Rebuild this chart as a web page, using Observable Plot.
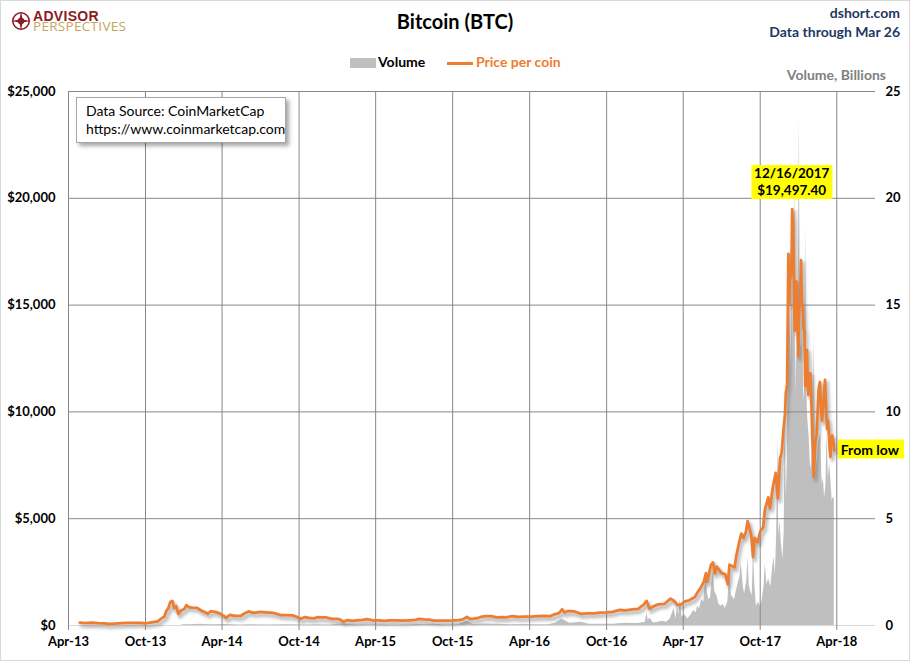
<!DOCTYPE html>
<html>
<head>
<meta charset="utf-8">
<script src="https://cdn.jsdelivr.net/npm/d3@7"></script>
<script src="https://cdn.jsdelivr.net/npm/@observablehq/plot@0.6"></script>
<style>
  body { margin: 0; background: #fff; }
  #wrap { position: relative; width: 910px; height: 661px; font-family: Lato, "Open Sans", sans-serif; overflow: hidden; }
  #wrap > svg { position: absolute; left: 0; top: 0; }
  .abs { position: absolute; white-space: nowrap; }
  .border { position: absolute; left: 0; top: 0; width: 908px; height: 659px; border: 1px solid #d9d9d9; pointer-events: none; }
</style>
</head>
<body>
<div id="wrap"></div>
<script>
// ---------- DATA ----------
const xTickLabels = ["Apr-13","Oct-13","Apr-14","Oct-14","Apr-15","Oct-15","Apr-16","Oct-16","Apr-17","Oct-17","Apr-18"];
const yTicks = [0, 5000, 10000, 15000, 20000, 25000];
const volumeTicks = [0, 5, 10, 15, 20, 25];

const priceDates = [
"2013-04-28","2013-05-10","2013-05-25","2013-06-10","2013-06-25","2013-07-05","2013-07-20","2013-08-05","2013-08-20","2013-09-05",
"2013-09-20","2013-10-02","2013-10-15","2013-10-30","2013-11-08","2013-11-15","2013-11-19","2013-11-24","2013-11-29","2013-12-04",
"2013-12-08","2013-12-13","2013-12-18","2013-12-23","2014-01-01","2014-01-06","2014-01-12","2014-01-20","2014-02-01","2014-02-10",
"2014-02-20","2014-02-26","2014-03-05","2014-03-15","2014-03-25","2014-04-05","2014-04-10","2014-04-20","2014-05-01","2014-05-15",
"2014-05-25","2014-06-03","2014-06-15","2014-07-01","2014-07-15","2014-08-01","2014-08-18","2014-09-01","2014-09-15","2014-09-25",
"2014-10-05","2014-10-15","2014-10-25","2014-11-05","2014-11-15","2014-11-25","2014-12-05","2014-12-18","2014-12-30","2015-01-06",
"2015-01-14","2015-01-25","2015-02-05","2015-02-15","2015-03-01","2015-03-12","2015-03-25","2015-04-10","2015-04-20","2015-05-05",
"2015-05-20","2015-06-05","2015-06-20","2015-07-05","2015-07-12","2015-07-25","2015-08-05","2015-08-18","2015-09-01","2015-09-15",
"2015-10-01","2015-10-15","2015-10-25","2015-11-04","2015-11-11","2015-11-20","2015-12-01","2015-12-10","2015-12-20","2016-01-01",
"2016-01-15","2016-01-25","2016-02-05","2016-02-20","2016-03-05","2016-03-20","2016-04-05","2016-04-20","2016-05-05","2016-05-20",
"2016-06-01","2016-06-10","2016-06-17","2016-06-23","2016-07-01","2016-07-15","2016-08-02","2016-08-15","2016-09-01","2016-09-15",
"2016-10-01","2016-10-15","2016-11-01","2016-11-15","2016-12-01","2016-12-15","2016-12-28","2017-01-04","2017-01-11","2017-01-20",
"2017-02-01","2017-02-15","2017-03-02","2017-03-10","2017-03-18","2017-03-25","2017-04-05","2017-04-15","2017-04-28","2017-05-05",
"2017-05-12","2017-05-20","2017-05-25","2017-05-28","2017-06-06","2017-06-11","2017-06-15","2017-06-20","2017-07-01","2017-07-10",
"2017-07-16","2017-07-20","2017-08-01","2017-08-05","2017-08-12","2017-08-17","2017-08-22","2017-08-28","2017-09-01","2017-09-05",
"2017-09-10","2017-09-14","2017-09-18","2017-09-25","2017-10-01","2017-10-08","2017-10-12","2017-10-20","2017-10-24","2017-10-31",
"2017-11-07","2017-11-12","2017-11-17","2017-11-21","2017-11-26","2017-11-29","2017-12-01","2017-12-04","2017-12-07","2017-12-09",
"2017-12-11","2017-12-13","2017-12-15","2017-12-16","2017-12-18","2017-12-20","2017-12-22","2017-12-24","2017-12-26","2017-12-28",
"2017-12-30","2018-01-02","2018-01-04","2018-01-06","2018-01-08","2018-01-10","2018-01-12","2018-01-14","2018-01-16","2018-01-18",
"2018-01-20","2018-01-23","2018-01-26","2018-01-28","2018-01-31","2018-02-02","2018-02-04","2018-02-05","2018-02-07","2018-02-09",
"2018-02-12","2018-02-15","2018-02-17","2018-02-20","2018-02-23","2018-02-25","2018-02-28","2018-03-04","2018-03-07","2018-03-09",
"2018-03-11","2018-03-13","2018-03-15","2018-03-17","2018-03-19","2018-03-21","2018-03-23","2018-03-25","2018-03-26"
];
const priceValues = [
135,117,130,108,103,80,90,106,120,124,
126,105,150,196,335,420,660,800,1100,1150,
820,900,540,680,770,950,860,840,830,700,
620,550,670,640,580,450,360,500,450,445,
575,660,590,640,620,590,490,480,475,410,
320,395,355,335,390,375,375,310,315,285,
180,255,220,235,260,295,245,235,220,240,
235,225,245,260,310,290,280,230,228,230,
237,255,285,400,310,325,360,415,440,435,
375,395,385,440,400,410,420,440,450,440,
535,580,760,610,680,665,545,570,572,607,
615,640,730,710,755,780,975,1150,780,895,
990,1010,1260,1150,970,960,1130,1180,1320,1550,
1750,2050,2450,2050,2850,2950,2430,2750,2450,2400,
1930,2850,2720,3250,3900,4300,4100,4380,4890,4600,
4200,3200,4100,3900,4400,4600,5400,6000,5500,6470,
7150,5950,7800,8100,9300,9900,10900,11300,17400,15000,
16700,16300,17700,19497.4,18900,16600,13800,13900,16100,14600,
12600,14900,15100,17100,15200,14900,13900,13800,11200,11500,
12900,10800,11100,11800,10200,8800,8200,6950,7700,8600,
8900,10200,11100,11400,10000,9600,10400,11500,9900,9200,
9600,9100,8300,7900,8600,8900,8700,8450,8200
];

const volumeDates = [
"2013-04-28","2013-12-26","2013-12-27","2014-01-15","2014-02-10","2014-03-01","2014-04-10","2014-05-15","2014-06-05","2014-07-15",
"2014-08-18","2014-09-20","2014-10-15","2014-11-12","2014-12-15","2015-01-14","2015-02-15","2015-03-15","2015-04-15","2015-05-15",
"2015-06-15","2015-07-10","2015-08-18","2015-09-15","2015-10-15","2015-11-04","2015-11-20","2015-12-15","2016-01-15","2016-02-15",
"2016-03-15","2016-04-15","2016-05-15","2016-06-01","2016-06-17","2016-07-05","2016-08-02","2016-08-20","2016-09-15","2016-10-15",
"2016-11-15","2016-12-15","2017-01-01","2017-01-05","2017-01-08","2017-01-12","2017-01-20","2017-02-01","2017-02-10","2017-02-20",
"2017-03-01","2017-03-05","2017-03-10","2017-03-15","2017-03-18","2017-03-22","2017-03-25","2017-03-29","2017-04-05","2017-04-12",
"2017-04-20","2017-04-26","2017-05-02","2017-05-05","2017-05-10","2017-05-15","2017-05-20","2017-05-25","2017-05-28","2017-06-01",
"2017-06-05","2017-06-08","2017-06-12","2017-06-15","2017-06-20","2017-06-25","2017-07-01","2017-07-05","2017-07-10","2017-07-16",
"2017-07-20","2017-07-25","2017-08-01","2017-08-05","2017-08-10","2017-08-14","2017-08-17","2017-08-22","2017-08-25","2017-08-30",
"2017-09-02","2017-09-05","2017-09-08","2017-09-12","2017-09-15","2017-09-18","2017-09-22","2017-09-27","2017-10-01","2017-10-05",
"2017-10-10","2017-10-13","2017-10-17","2017-10-21","2017-10-26","2017-10-31","2017-11-03","2017-11-06","2017-11-09","2017-11-12",
"2017-11-14","2017-11-17","2017-11-20","2017-11-24","2017-11-27","2017-11-29","2017-12-02","2017-12-05","2017-12-07","2017-12-09",
"2017-12-11","2017-12-13","2017-12-15","2017-12-16","2017-12-17","2017-12-19","2017-12-21","2017-12-22","2017-12-24","2017-12-26",
"2017-12-28","2017-12-30","2018-01-02","2018-01-04","2018-01-06","2018-01-08","2018-01-10","2018-01-12","2018-01-14","2018-01-16",
"2018-01-17","2018-01-19","2018-01-22","2018-01-25","2018-01-28","2018-01-31","2018-02-02","2018-02-05","2018-02-06","2018-02-08",
"2018-02-10","2018-02-14","2018-02-17","2018-02-20","2018-02-22","2018-02-25","2018-02-28","2018-03-03","2018-03-06","2018-03-09",
"2018-03-12","2018-03-15","2018-03-18","2018-03-21","2018-03-23","2018-03-26"
];
const volumeValues = [
0,0,0.03,0.04,0.06,0.03,0.05,0.02,0.04,0.02,
0.03,0.04,0.02,0.04,0.02,0.08,0.02,0.03,0.02,0.01,
0.02,0.05,0.06,0.02,0.03,0.2,0.05,0.07,0.06,0.04,
0.05,0.04,0.04,0.1,0.3,0.1,0.15,0.06,0.06,0.06,
0.1,0.09,0.15,0.6,0.25,0.35,0.12,0.15,0.2,0.15,
0.3,0.5,0.8,0.3,0.9,0.5,1.2,0.4,0.5,0.3,
0.5,0.7,0.6,0.9,0.8,1.2,1.1,2.4,1.6,1.2,
1.3,2.0,2.5,1.6,1.4,1.0,0.9,1.0,0.8,1.1,
2.3,1.4,1.2,1.6,2.0,2.3,2.9,1.8,1.5,2.1,
3.2,1.9,1.6,1.4,3.5,2.0,0.9,1.1,0.9,1.1,
1.8,2.9,1.9,2.2,1.8,2.8,3.2,2.4,4.2,8.9,
4.2,4.9,3.9,3.1,4.4,9.5,6.0,8.1,16.8,13.6,
14.6,12.1,14.0,18.0,12.7,16.9,16.0,22.2,10.7,13.0,
12.3,14.1,23.8,15.0,13.0,13.2,15.0,11.1,10.5,16.0,
18.8,11.3,9.7,8.9,7.6,7.3,12.7,9.3,13.9,9.9,
7.1,7.9,8.6,8.8,9.0,6.6,6.9,6.0,6.5,9.0,
6.9,7.6,6.8,5.8,6.0,5.9
];

const peakDate = "2017-12-16";
const peakValue = 19497.40;
const peakLabel = ["12/16/2017", "$19,497.40"];

// ---------- BUILD ----------
const parseTick = d3.utcParse("%b-%y");
const xTickDates = xTickLabels.map(parseTick);
const labelByTime = new Map(xTickDates.map((d, i) => [+d, xTickLabels[i]]));
const price = priceDates.map((d, i) => ({date: new Date(d), value: priceValues[i]}));
const volume = volumeDates.map((d, i) => ({date: new Date(d), value: volumeValues[i]}));
const VOL_TO_PRICE = yTicks[yTicks.length - 1] / volumeTicks[volumeTicks.length - 1]; // 1 billion <-> $1,000

const chart = Plot.plot({
  width: 910,
  height: 661,
  marginLeft: 68,
  marginRight: 35,
  marginTop: 91,
  marginBottom: 36,
  style: {fontFamily: "Lato, 'Open Sans', sans-serif", fontSize: "13px", fontWeight: "bold", color: "#000", background: "transparent", overflow: "visible"},
  x: {type: "utc", domain: [new Date("2013-04-01"), new Date("2018-07-02")]},
  y: {domain: [0, 25000]},
  marks: [
    Plot.areaY(volume, {x: "date", y: d => d.value * VOL_TO_PRICE, fill: "#bfbfbf", curve: "linear"}),
    Plot.ruleY(yTicks.filter(d => d > 0), {stroke: "#878787", strokeWidth: 1}),
    Plot.ruleX(xTickDates, {y1: 0, y2: 25000, stroke: "#878787", strokeWidth: 1}),
    Plot.ruleY([0], {stroke: "#d9d9d9", strokeWidth: 1}),
    Plot.line(price, {x: "date", y: "value", stroke: "#6f6f6f", strokeWidth: 4, strokeOpacity: 0.45, dx: 2, dy: 3}),
    Plot.line(price, {x: "date", y: "value", stroke: "#ed7d31", strokeWidth: 2.75}),
    Plot.axisX({ticks: xTickDates, tickFormat: d => labelByTime.get(+d), tickSize: 5, tickPadding: 6, stroke: "#878787", fill: "#000", label: null}),
    Plot.axisY({anchor: "left", ticks: yTicks, tickFormat: d => "$" + d3.format(",")(d), tickSize: 0, tickPadding: 13, fill: "#000", label: null}),
    Plot.axisY({anchor: "right", ticks: yTicks, tickFormat: d => volumeTicks[yTicks.indexOf(d)], tickSize: 0, tickPadding: 10, fill: "#000", label: null})
  ]
});

// blur the shadow line
const svg = d3.select(chart);
const defs = svg.insert("defs", ":first-child");
defs.append("filter").attr("id", "lineShadow").attr("x", "-5%").attr("y", "-5%").attr("width", "110%").attr("height", "110%")
  .append("feGaussianBlur").attr("stdDeviation", 1.6);
const lineGroups = svg.selectAll('g[aria-label="line"]').nodes();
if (lineGroups.length) lineGroups[0].setAttribute("filter", "url(#lineShadow)");

const wrap = document.getElementById("wrap");
wrap.appendChild(chart);

function addDiv(html, style) {
  const el = document.createElement("div");
  el.className = "abs";
  el.innerHTML = html;
  Object.assign(el.style, style);
  wrap.appendChild(el);
  return el;
}

// Logo (icon + stacked wordmark)
addDiv(`<svg width="124" height="34" viewBox="0 0 124 34" style="display:block;overflow:visible">
  <g transform="translate(0,4)">
    <circle cx="10" cy="10" r="8.2" fill="none" stroke="#8b1c24" stroke-width="1.6"/>
    <polygon points="10,0.5 11.6,8.4 19.5,10 11.6,11.6 10,19.5 8.4,11.6 0.5,10 8.4,8.4" fill="#8b1c24"/>
    <circle cx="10" cy="10" r="3.2" fill="#8b1c24"/>
  </g>
  <text x="22" y="14" font-family="'Liberation Sans', Arial, sans-serif" font-weight="bold" font-size="14" fill="#8b1c24" letter-spacing="0.3">ADVISOR</text>
  <text x="22" y="24" font-family="'Open Sans', sans-serif" font-size="13.5" fill="#c6a45c" letter-spacing="0.3">PERSPECTIVES</text>
</svg>`, {left: "11px", top: "7px", lineHeight: "0"});

// Title and header
addDiv("Bitcoin (BTC)", {left: "0px", width: "910px", top: "9px", textAlign: "center", fontWeight: "bold", fontSize: "20px", color: "#000"});
addDiv("dshort.com", {right: "10px", top: "4px", textAlign: "right", fontWeight: "bold", fontSize: "14px", color: "#1f3864"});
addDiv("Data through Mar 26", {right: "10px", top: "23px", textAlign: "right", fontWeight: "bold", fontSize: "14px", color: "#1f3864"});

// Legend
addDiv("", {left: "350px", top: "58px", width: "26px", height: "10px", background: "#bfbfbf"});
addDiv("Volume", {left: "378px", top: "53px", fontWeight: "bold", fontSize: "14px", color: "#000"});
addDiv("", {left: "447px", top: "62px", width: "26px", height: "2.5px", background: "#ed7d31"});
addDiv("Price per coin", {left: "476px", top: "53px", fontWeight: "bold", fontSize: "14px", color: "#ed7d31"});
addDiv("Volume, Billions", {right: "24px", top: "66px", fontWeight: "bold", fontSize: "14px", color: "#808080"});

// Data source box
addDiv("Data Source: CoinMarketCap<br>https://www.coinmarketcap.com", {
  left: "76px", top: "97px", width: "199px", height: "35px", padding: "4px 0 5px 9px",
  background: "#fff", border: "1px solid #a6a6a6", boxShadow: "3px 3px 4px rgba(0,0,0,0.35)",
  fontSize: "14px", fontWeight: "normal", lineHeight: "18px", color: "#000"
});

// Annotations positioned through the chart's scales
const xs = chart.scale("x"), ys = chart.scale("y");
const px = xs.apply(new Date(peakDate)), py = ys.apply(peakValue);
addDiv(peakLabel.join("<br>"), {
  left: px + "px", top: (py - 10) + "px", transform: "translate(-50%, -100%)",
  background: "#ffff00", padding: "0px 3px", textAlign: "center",
  fontWeight: "bold", fontSize: "13.5px", lineHeight: "17px", color: "#000"
});
const last = price[price.length - 1];
const lx = xs.apply(last.date), ly = ys.apply(last.value);
addDiv("From low", {
  left: (lx + 4) + "px", top: (ly - 1) + "px", transform: "translateY(-50%)",
  background: "#ffff00", padding: "0px 5px 0 3px",
  fontWeight: "bold", fontSize: "14px", lineHeight: "19px", color: "#000"
});

addDiv("", {}).className = "border";
</script>
</body>
</html>
